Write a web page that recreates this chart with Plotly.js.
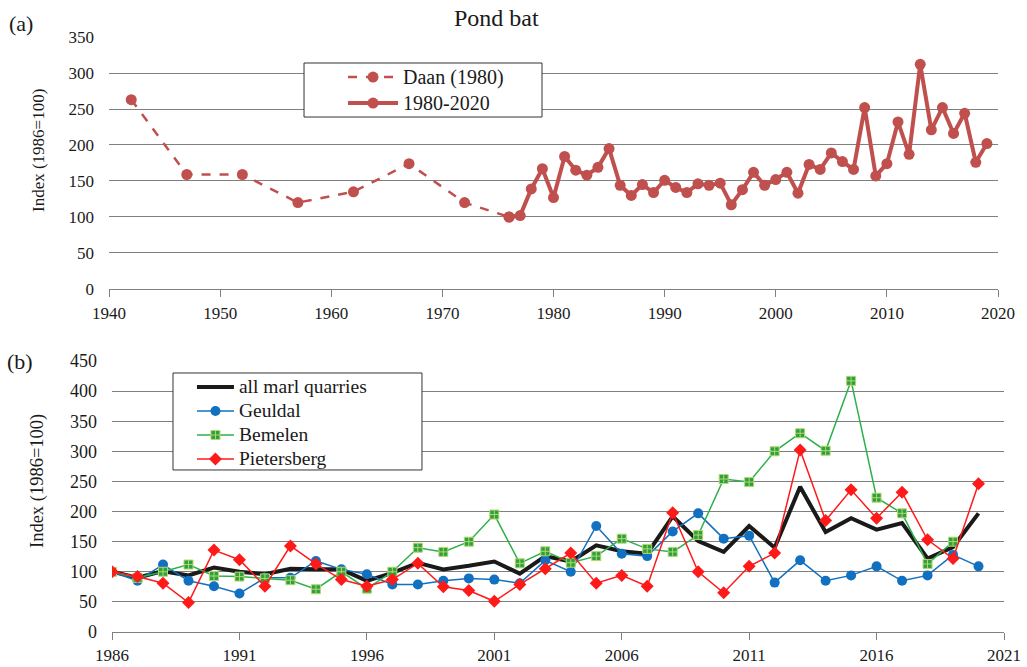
<!DOCTYPE html>
<html><head><meta charset="utf-8">
<script src="https://cdn.plot.ly/plotly-3.0.1.min.js"></script>
<style>html,body{margin:0;padding:0;background:#fff}#chart{width:1027px;height:667px}</style>
</head><body><div id="chart"></div>
<script>
// Panel (a): Pond bat
const daanYears = [1942,1947,1952,1957,1962,1967,1972,1976];
const daanVals  = [263,159,159,120,135,174,120,100];
const mainYears = [1976,1977,1978,1979,1980,1981,1982,1983,1984,1985,1986,1987,1988,1989,1990,1991,1992,1993,1994,1995,1996,1997,1998,1999,2000,2001,2002,2003,2004,2005,2006,2007,2008,2009,2010,2011,2012,2013,2014,2015,2016,2017,2018,2019];
const mainVals  = [100,102,139,167,127,184,165,158,169,195,144,130,145,134,151,141,134,146,144,147,117,138,162,144,152,162,133,173,166,189,177,166,252,157,174,232,187,312,221,252,216,244,176,202];

// Panel (b): marl quarries
const qYears = [1986,1987,1988,1989,1990,1991,1992,1993,1994,1995,1996,1997,1998,1999,2000,2001,2002,2003,2004,2005,2006,2007,2008,2009,2010,2011,2012,2013,2014,2015,2016,2017,2018,2019,2020];
const allMarl     = [100,90,101,94,107,100,96,105,104,104,85,98,115,104,110,117,97,126,117,144,134,130,192,151,133,176,140,241,166,189,170,181,122,141,197];
const geuldal     = [100,85,112,85,76,64,90,90,118,104,96,79,79,85,89,87,81,119,100,176,130,126,167,197,155,160,82,119,85,94,109,85,94,128,109];
const bemelen     = [100,90,100,112,93,92,89,86,71,100,72,100,140,133,150,195,114,134,115,126,155,138,133,161,254,249,300,330,301,417,223,197,113,150,null];
const pietersberg = [100,92,81,49,136,120,76,143,113,87,76,87,114,75,69,51,79,105,131,81,94,76,198,100,65,109,131,302,185,236,189,232,153,122,246];

const F = "Liberation Serif";
const red = "#C0504D";
const ink = "#1a1a1a";
const big = (s, px) => '<span style="font-size:' + px + 'px">' + s + '</span>';

const traces = [
  {x: daanYears, y: daanVals, name: big("Daan (1980)", 20), mode: "lines+markers", xaxis: "x", yaxis: "y",
   line: {color: red, width: 2.5, dash: "dash"}, marker: {color: red, size: 11}, legend: "legend"},
  {x: mainYears, y: mainVals, name: big("1980-2020", 20), mode: "lines+markers", xaxis: "x", yaxis: "y",
   line: {color: red, width: 4}, marker: {color: red, size: 11}, legend: "legend"},
  {x: qYears, y: allMarl, name: big("all marl quarries", 19.5), mode: "lines", xaxis: "x2", yaxis: "y2",
   line: {color: ink, width: 4}, legend: "legend2"},
  {x: qYears, y: geuldal, name: big("Geuldal", 19.5), mode: "lines+markers", xaxis: "x2", yaxis: "y2",
   line: {color: "#1270C0", width: 1.5}, marker: {color: "#1270C0", size: 10, symbol: "circle"}, legend: "legend2"},
  {x: qYears, y: bemelen, name: big("Bemelen", 19.5), mode: "lines+markers", xaxis: "x2", yaxis: "y2",
   line: {color: "#2DB04A", width: 1.5}, marker: {color: "#2DA043", size: 9, symbol: "square-cross", line: {color: "#B5D86A", width: 1}}, legend: "legend2"},
  {x: qYears, y: pietersberg, name: big("Pietersberg", 19.5), mode: "lines+markers", xaxis: "x2", yaxis: "y2",
   line: {color: "#FF1A1A", width: 1.5}, marker: {color: "#FF1A1A", size: 10, symbol: "diamond"}, legend: "legend2"}
];

const grid = "#808080";

const layout = {
  width: 1027, height: 667,
  margin: {l: 109, r: 23, t: 37, b: 35},
  paper_bgcolor: "#fff", plot_bgcolor: "#fff",
  font: {family: F, color: ink},
  xaxis: {domain: [0, 0.9933], range: [1940, 2020], dtick: 10, tick0: 1940, showgrid: false, zeroline: false,
          showline: true, linecolor: grid, linewidth: 1, ticks: "outside", ticklen: 7, tickcolor: grid,
          ticklabelstandoff: 2, tickfont: {family: F, size: 17, color: ink}, anchor: "y"},
  yaxis: {domain: [0.5765, 1], range: [0, 350], dtick: 50, showgrid: true, gridcolor: grid, gridwidth: 1,
          zeroline: false, showline: false, ticks: "", ticklabelstandoff: 14,
          tickfont: {family: F, size: 17, color: ink}, anchor: "x"},
  xaxis2: {domain: [0.0034, 1], range: [1986, 2021], tickvals: [1986,1991,1996,2001,2006,2011,2016,2021],
           showgrid: false, zeroline: false, showline: true, linecolor: grid, linewidth: 1,
           ticks: "outside", ticklen: 7, tickcolor: grid, ticklabelstandoff: 1,
           tickfont: {family: F, size: 17, color: ink}, anchor: "y2"},
  yaxis2: {domain: [0, 0.4555], range: [0, 450], dtick: 50, showgrid: true, gridcolor: grid, gridwidth: 1,
           zeroline: false, showline: false, ticks: "", ticklabelstandoff: 14,
           tickfont: {family: F, size: 18, color: ink}, anchor: "x2"},
  legend: {x: 0.2615, y: 0.963, xanchor: "left", yanchor: "top", bgcolor: "rgba(0,0,0,0)", borderwidth: 0,
           font: {family: F, size: 17.7, color: ink}, itemwidth: 50, tracegroupgap: 0},
  legend2: {x: 0.0927, y: 0.4403, xanchor: "left", yanchor: "top", bgcolor: "rgba(0,0,0,0)", borderwidth: 0,
            font: {family: F, size: 16.15, color: ink}, itemwidth: 37, tracegroupgap: 0},
  showlegend: true,
  shapes: [
    {type: "rect", xref: "paper", yref: "paper", x0: 0.2179, x1: 0.4838, y0: 0.8655, y1: 0.9563,
     fillcolor: "#fff", line: {color: "#333", width: 1}, layer: "above"},
    {type: "rect", xref: "paper", yref: "paper", x0: 0.0715, x1: 0.3497, y0: 0.2723, y1: 0.4353,
     fillcolor: "#fff", line: {color: "#333", width: 1}, layer: "above"}
  ],
  annotations: [
    {text: "Pond bat", xref: "paper", yref: "paper", x: 0.3832, y: 1.032, xanchor: "left", yanchor: "middle",
     showarrow: false, font: {family: F, size: 24, color: ink}},
    {text: "(a)", xref: "paper", yref: "paper", x: -0.114, y: 1.0235, xanchor: "left", yanchor: "middle",
     showarrow: false, font: {family: F, size: 22, color: ink}},
    {text: "(b)", xref: "paper", yref: "paper", x: -0.116, y: 0.4538, xanchor: "left", yanchor: "middle",
     showarrow: false, font: {family: F, size: 22, color: ink}},
    {text: "Index (1986=100)", xref: "paper", yref: "paper", x: -0.0793, y: 0.8084, xanchor: "center", yanchor: "middle",
     textangle: -90, showarrow: false, font: {family: F, size: 17, color: ink}},
    {text: "Index (1986=100)", xref: "paper", yref: "paper", x: -0.0793, y: 0.2538, xanchor: "center", yanchor: "middle",
     textangle: -90, showarrow: false, font: {family: F, size: 18.5, color: ink}}
  ]
};

Plotly.newPlot("chart", traces, layout, {displayModeBar: false, staticPlot: true});
</script></body></html>
